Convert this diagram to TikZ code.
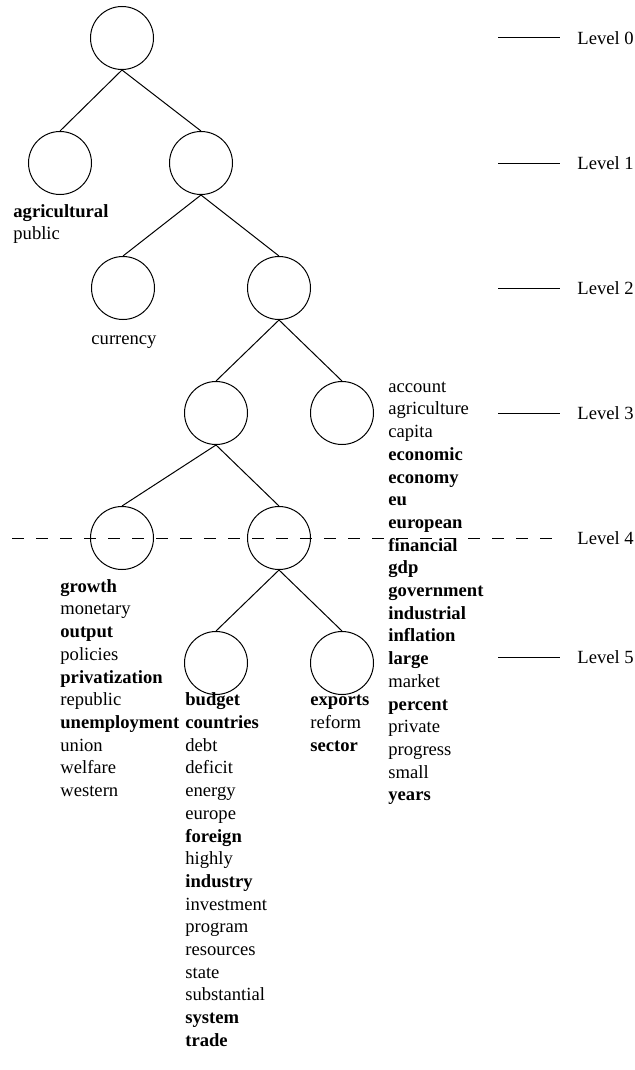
\documentclass[tikz,border=0pt]{standalone}
\usepackage{fontspec}
\setmainfont{Liberation Serif}

\begin{document}
\begin{tikzpicture}[x=0.5pt, y=-0.5pt]
	\tikzset{vertex/.style = {draw, circle, inner sep=0pt,
	minimum size=31.5pt, line width=0.5pt},
	words/.style = {align=left, anchor=north west, inner sep=0pt,
	font=\fontsize{9.3}{11.35}\selectfont},
	level/.style = {anchor=west, inner xsep=8.5pt, inner ysep=0pt,
	font=\fontsize{9.3}{11.35}\selectfont},
	edge/.style = {line width=0.5pt}}
	\useasboundingbox (0,0) rectangle (635,1070);
	
	% tree
	\node[vertex] (n0) at (122, 38) {};
	\node[vertex] (n1a) at (60, 163) {};
	\node[vertex] (n1b) at (201, 163) {};
	\node[vertex] (n2a) at (123, 288) {};
	\node[vertex] (n2b) at (279, 288) {};
	\node[vertex] (n3a) at (216, 413) {};
	\node[vertex] (n3b) at (342, 413) {};
	\node[vertex] (n4a) at (122, 538) {};
	\node[vertex] (n4b) at (279, 538) {};
	\node[vertex] (n5a) at (216, 663) {};
	\node[vertex] (n5b) at (342, 663) {};
	
	\draw[edge] (n0.south) -- (n1a.north);
	\draw[edge] (n0.south) -- (n1b.north);
	\draw[edge] (n1b.south) -- (n2a.north);
	\draw[edge] (n1b.south) -- (n2b.north);
	\draw[edge] (n2b.south) -- (n3a.north);
	\draw[edge] (n2b.south) -- (n3b.north);
	\draw[edge] (n3a.south) -- (n4a.north);
	\draw[edge] (n3a.south) -- (n4b.north);
	\draw[edge] (n4b.south) -- (n5a.north);
	\draw[edge] (n4b.south) -- (n5b.north);
	
	% word lists
	\node[words] (w1a) at (13, 201) {\strut\textbf{agricultural}\\ public};
	\node[words, anchor=base] (w2a) at (124, 344) {currency};
	\node[words] (w3b) at (388, 376) {\strut account\\ agriculture\\ capita\\
	\textbf{economic}\\ \textbf{economy}\\ \textbf{eu}\\ \textbf{european}\\
	\textbf{financial}\\ \textbf{gdp}\\ \textbf{government}\\
	\textbf{industrial}\\ \textbf{inflation}\\ \textbf{large}\\ market\\
	\textbf{percent}\\ private\\ progress\\ small\\ \textbf{years}};
	\node[words] (w4a) at (60, 576) {\strut\textbf{growth}\\ monetary\\
	\textbf{output}\\ policies\\ \textbf{privatization}\\ republic\\
	\textbf{unemployment}\\ union\\ welfare\\ western};
	\node[words] (w5a) at (185, 689.5) {\strut\textbf{budget}\\
	\textbf{countries}\\ debt\\ deficit\\ energy\\ europe\\ \textbf{foreign}\\
	highly\\ \textbf{industry}\\ investment\\ program\\ resources\\ state\\
	substantial\\ \textbf{system}\\ \textbf{trade}};
	\node[words] (w5b) at (310, 689.5) {\strut\textbf{exports}\\ reform\\
	\textbf{sector}};
	
	% levels
	\node[level] (lev0) at (560, 38) {Level 0};
	\node[level] (lev1) at (560, 163) {Level 1};
	\node[level] (lev2) at (560, 288) {Level 2};
	\node[level] (lev3) at (560, 413) {Level 3};
	\node[level] (lev4) at (560, 538) {Level 4};
	\node[level] (lev5) at (560, 657) {Level 5};
	\coordinate (t0) at (498, 38);
	\coordinate (t1) at (498, 163);
	\coordinate (t2) at (498, 288);
	\coordinate (t3) at (498, 413);
	\coordinate (t4) at (12, 538);
	\coordinate (t5) at (498, 657);
	\draw[edge] (t0) -- (lev0);
	\draw[edge] (t1) -- (lev1);
	\draw[edge] (t2) -- (lev2);
	\draw[edge] (t3) -- (lev3);
	\draw[edge, dash pattern=on 6.2pt off 5.8pt] (t4) -- (lev4);
	\draw[edge] (t5) -- (lev5);
\end{tikzpicture}
\end{document}
